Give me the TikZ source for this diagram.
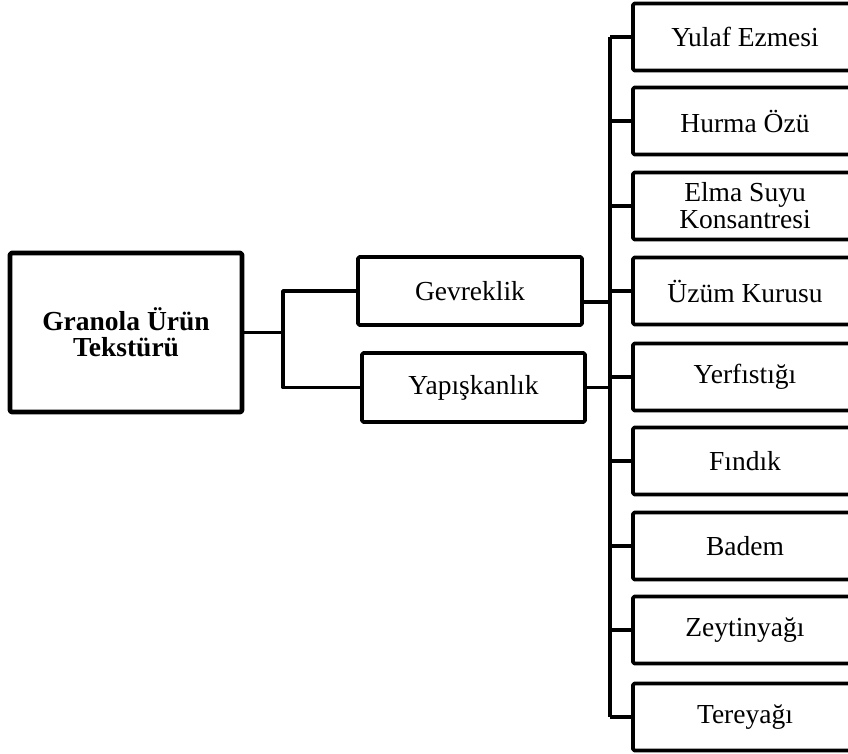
\documentclass[tikz,border=0pt]{standalone}
\usepackage{fontspec}
\setmainfont{Liberation Serif}
\usetikzlibrary{calc}

\begin{document}
\begin{tikzpicture}[x=1pt, y=-1pt, line width=3.8pt, line join=round,
  kutu/.style={draw, line width=3.8pt, rounded corners=1.5pt, minimum width=224pt,
    minimum height=67pt, inner sep=0pt, align=center,
    font=\fontsize{27.5}{27}\selectfont},
  anakutu/.style={kutu, line width=4.6pt, minimum width=232pt, minimum height=159pt,
    font=\fontsize{27.5}{26}\selectfont\bfseries}]
  \useasboundingbox (0,0) rectangle (848,753);

  \coordinate (sol) at (283,0);   % sol dal
  \coordinate (dal) at (610,0);   % sag dal

  % ana kutu ve iki alt kutu
  \node[anakutu] (ana) at (126,332.5) {Granola Ürün\\Tekstürü};
  \node[kutu, minimum height=68pt] (gev) at (470,291) {Gevreklik};
  \node[kutu, minimum height=69pt, minimum width=223pt] (yap) at (473.5,387.5) {Yapışkanlık};

  % sag taraftaki malzeme kutulari
  \foreach \y/\ad [count=\i] in {37/Yulaf Ezmesi, 121/Hurma Özü,
      206/{Elma Suyu\\Konsantresi}, 291/Üzüm Kurusu, 377/Yerfıstığı,
      461/Fındık, 546/Badem, 630/Zeytinyağı, 717/Tereyağı}
    \node[kutu] (b\i) at (745,\y) {\ad};

  % baglantilar
  \draw (ana.east) -- (ana.east -| sol);
  \draw (gev.west) -| (yap.west -| sol) -- (yap.west);
  \draw ([yshift=-11pt]gev.east) -- ([yshift=-11pt]gev.east -| dal);
  \draw (yap.east) -- (yap.east -| dal);
  \draw (b1.west -| dal) -- (b9.west -| dal);
  \foreach \i in {1,...,9}
    \draw (b\i.west) -- (b\i.west -| dal);
\end{tikzpicture}
\end{document}
